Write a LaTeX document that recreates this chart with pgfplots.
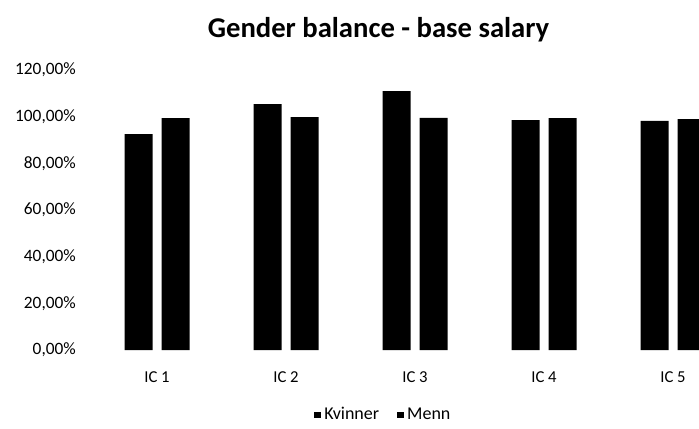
\documentclass[border=0pt]{standalone}
\usepackage{pgfplots}
\pgfplotsset{compat=1.18}
\usepackage{fontspec}
\setmainfont{Carlito}
\begin{document}
\begin{tikzpicture}
\begin{axis}[
  at={(69.375pt,58.5pt)}, anchor=south west,
  scale only axis, width=483.75pt, height=210pt,
  xmin=-0.5, xmax=4.5, ymin=0, ymax=120,
  axis line style={draw=none}, major tick style={draw=none},
  ytick={0,20,40,60,80,100,120},
  yticklabels={{0,00\%},{20,00\%},{40,00\%},{60,00\%},{80,00\%},{100,00\%},{120,00\%}},
  xtick={0,1,2,3,4},
  xticklabels={IC 1,IC 2,IC 3,IC 4,IC 5},
  yticklabel style={font=\fontsize{13}{15}\selectfont, anchor=east, xshift=-9pt},
  xticklabel style={font=\fontsize{12.5}{15}\selectfont, anchor=center, yshift=-16pt},
  ybar, bar width=21pt,
  legend style={at={(0.452,-0.232)}, anchor=center, draw=none, legend columns=2,
    font=\fontsize{13.5}{15}\selectfont,
    nodes={inner xsep=2.5pt, inner ysep=1pt, text height=1.7ex, text depth=0.3ex},
    /tikz/every even column/.append style={column sep=11pt}},
  legend image code/.code={\fill[black] (0pt,-2.5pt) rectangle (5pt,2.5pt);},
]
\addplot[fill=black, draw=none, bar shift=-13.875pt] coordinates {(0,92.5) (1,105.4) (2,110.9) (3,98.5) (4,98.2)};
\addplot[fill=black, draw=none, bar shift=13.875pt] coordinates {(0,99.4) (1,99.8) (2,99.5) (3,99.4) (4,98.9)};
\legend{Kvinner, Menn}
\end{axis}
\node at (283.9pt,298.5pt) {\bfseries\fontsize{21.5}{26}\selectfont Gender balance - base salary};
\pgfresetboundingbox
\path[use as bounding box] (0pt,0pt) rectangle (524.25pt,321pt);
\end{tikzpicture}
\end{document}
